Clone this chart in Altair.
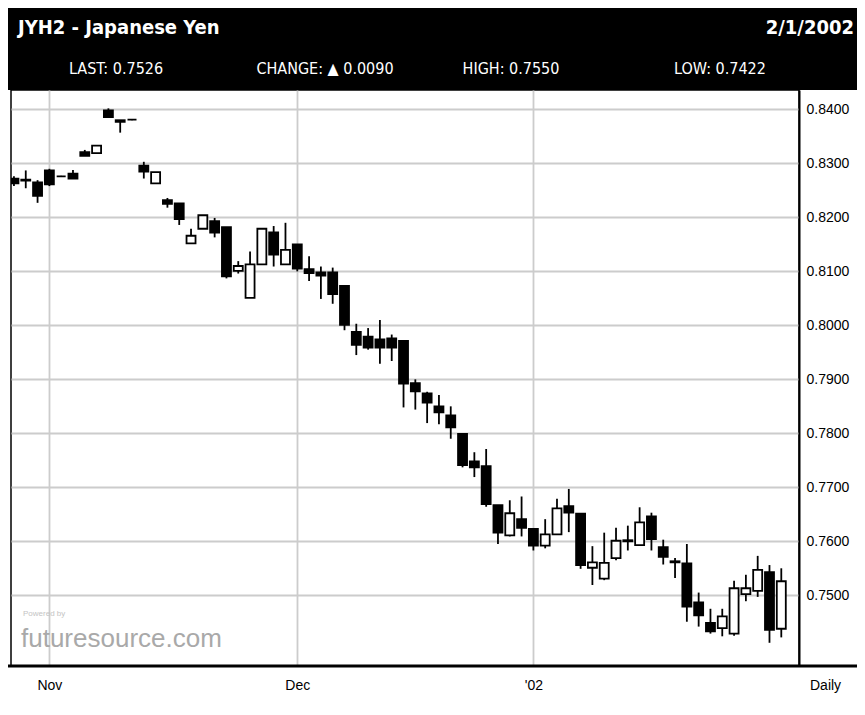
import json
import altair as alt
import pandas as pd

# ---- data (daily JYH2 candles, Oct 29 2001 .. Feb 1 2002)
opens = [0.8272, 0.8270, 0.8265, 0.8287, 0.8276, 0.8281, 0.8321, 0.8319, 0.8398, 0.8380,
         0.8381, 0.8296, 0.8263, 0.8232, 0.8226, 0.8152, 0.8179, 0.8193, 0.8182, 0.8101,
         0.8051, 0.8113, 0.8172, 0.8113, 0.8150, 0.8104, 0.8098, 0.8098, 0.8073, 0.7988,
         0.7979, 0.7974, 0.7976, 0.7971, 0.7893, 0.7874, 0.7850, 0.7833, 0.7799, 0.7748,
         0.7739, 0.7667, 0.7611, 0.7641, 0.7623, 0.7592, 0.7613, 0.7665, 0.7651, 0.7551,
         0.7531, 0.7569, 0.7602, 0.7593, 0.7646, 0.7589, 0.7563, 0.7559, 0.7487, 0.7449,
         0.7439, 0.7429, 0.7502, 0.7508, 0.7543, 0.7438]
highs = [0.8276, 0.8287, 0.8269, 0.8290, 0.8277, 0.8288, 0.8325, 0.8333, 0.8402, 0.8380,
         0.8382, 0.8303, 0.8284, 0.8236, 0.8226, 0.8179, 0.8204, 0.8199, 0.8182, 0.8119,
         0.8137, 0.8179, 0.8184, 0.8190, 0.8150, 0.8128, 0.8109, 0.8107, 0.8073, 0.8003,
         0.7995, 0.8010, 0.7983, 0.7971, 0.7900, 0.7877, 0.7871, 0.7850, 0.7799, 0.7765,
         0.7771, 0.7667, 0.7676, 0.7683, 0.7623, 0.7641, 0.7679, 0.7697, 0.7651, 0.7591,
         0.7616, 0.7625, 0.7629, 0.7663, 0.7653, 0.7603, 0.7569, 0.7595, 0.7505, 0.7475,
         0.7475, 0.7527, 0.7538, 0.7573, 0.7556, 0.7550]
lows = [0.8258, 0.8254, 0.8227, 0.8258, 0.8275, 0.8272, 0.8314, 0.8319, 0.8386, 0.8357,
        0.8380, 0.8272, 0.8263, 0.8218, 0.8186, 0.8152, 0.8179, 0.8163, 0.8087, 0.8096,
        0.8051, 0.8113, 0.8109, 0.8113, 0.8100, 0.8082, 0.8049, 0.8040, 0.7991, 0.7945,
        0.7955, 0.7929, 0.7934, 0.7848, 0.7844, 0.7819, 0.7817, 0.7790, 0.7737, 0.7719,
        0.7664, 0.7595, 0.7609, 0.7609, 0.7583, 0.7587, 0.7613, 0.7617, 0.7549, 0.7519,
        0.7528, 0.7565, 0.7583, 0.7593, 0.7583, 0.7557, 0.7532, 0.7451, 0.7442, 0.7429,
        0.7424, 0.7425, 0.7489, 0.7497, 0.7412, 0.7422]
closes = [0.8263, 0.8268, 0.8240, 0.8261, 0.8276, 0.8272, 0.8314, 0.8333, 0.8386, 0.8377,
          0.8381, 0.8285, 0.8284, 0.8225, 0.8197, 0.8166, 0.8204, 0.8172, 0.8091, 0.8110,
          0.8113, 0.8179, 0.8131, 0.8140, 0.8105, 0.8097, 0.8092, 0.8058, 0.8001, 0.7964,
          0.7959, 0.7959, 0.7959, 0.7892, 0.7878, 0.7857, 0.7839, 0.7811, 0.7741, 0.7737,
          0.7669, 0.7616, 0.7652, 0.7625, 0.7592, 0.7613, 0.7661, 0.7653, 0.7556, 0.7561,
          0.7560, 0.7601, 0.7600, 0.7635, 0.7604, 0.7571, 0.7561, 0.7479, 0.7463, 0.7433,
          0.7461, 0.7513, 0.7513, 0.7547, 0.7436, 0.7526]

month_ticks = [4, 25, 45]            # candle index of first trading day of the month
month_labels = ["Nov", "Dec", "'02"]
price_ticks = [0.75, 0.76, 0.77, 0.78, 0.79, 0.80, 0.81, 0.82, 0.83, 0.84]

title_left = "JYH2 - Japanese Yen"
title_right = "2/1/2002"
stats = ["LAST: 0.7526", "CHANGE: \u25B2 0.0090", "HIGH: 0.7550", "LOW: 0.7422"]

df = pd.DataFrame({
    "i": list(range(1, len(opens) + 1)),
    "open": opens, "high": highs, "low": lows, "close": closes,
})

W, H = 788, 576
FONT = "Liberation Sans, Arial, sans-serif"
NARROW = "Liberation Sans Narrow, DejaVu Sans Condensed, Liberation Sans, sans-serif"

label_expr = " : ".join(
    f"datum.value == {v} ? {json.dumps(l)}" for v, l in zip(month_ticks, month_labels)
) + " : ''"

xs = alt.Scale(domain=[0.75, 67.5], nice=False, zero=False, padding=0)
ys = alt.Scale(domain=[0.7369, 0.8436], nice=False, zero=False, padding=0)

base = alt.Chart(df)

wicks = base.mark_rule(color="black", strokeWidth=1.8, clip=True).encode(
    x=alt.X("i:Q", scale=xs,
            axis=alt.Axis(values=month_ticks, labelExpr=label_expr, title=None,
                          grid=True, gridColor="#cccccc", gridWidth=1.8,
                          ticks=False, domain=False, labelFont=FONT,
                          labelFontSize=14, labelColor="black", labelPadding=12,
                          labelAngle=0)),
    y=alt.Y("low:Q", scale=ys,
            axis=alt.Axis(orient="right", values=price_ticks, format=".4f", title=None,
                          grid=True, gridColor="#cccccc", gridWidth=1.8,
                          ticks=False, domain=True, domainColor="black", domainWidth=2,
                          labelFont=FONT, labelFontSize=14, labelColor="black",
                          labelPadding=7)),
    y2="high:Q",
)

bodies = base.mark_bar(size=9, stroke="black", strokeWidth=1.8, clip=True).encode(
    x=alt.X("i:Q", scale=xs),
    y=alt.Y("open:Q", scale=ys),
    y2="close:Q",
    fill=alt.condition("datum.close > datum.open", alt.value("white"), alt.value("black")),
)

one = alt.Chart(pd.DataFrame({"k": [0]}))

header = one.mark_rect(color="black").encode(
    x=alt.value(-3), x2=alt.value(846), y=alt.value(-82), y2=alt.value(0))
bottom_line = one.mark_rule(color="black", strokeWidth=3).encode(
    x=alt.value(-3), x2=alt.value(846), y=alt.value(H), y2=alt.value(H))

t_left = one.mark_text(font=NARROW, fontSize=20, fontWeight="bold", color="white",
                       align="left", baseline="alphabetic").encode(
    x=alt.value(7), y=alt.value(-56), text=alt.value(title_left))
t_right = one.mark_text(font=NARROW, fontSize=20, fontWeight="bold", color="white",
                        align="right", baseline="alphabetic").encode(
    x=alt.value(843), y=alt.value(-56), text=alt.value(title_right))

stat_x = [105, 314, 500, 709]
stat_layers = [
    one.mark_text(font=NARROW, fontSize=16, color="white", align="center",
                  baseline="alphabetic").encode(
        x=alt.value(sx), y=alt.value(-16), text=alt.value(s))
    for sx, s in zip(stat_x, stats)
]

powered = one.mark_text(font=FONT, fontSize=8, color="#c4c4c4", align="left",
                        baseline="alphabetic").encode(
    x=alt.value(12), y=alt.value(526), text=alt.value("Powered by"))
brand = one.mark_text(font=FONT, fontSize=26, color="#a9a9a9", align="left",
                      baseline="alphabetic").encode(
    x=alt.value(10), y=alt.value(557), text=alt.value("futuresource.com"))
daily = one.mark_text(font=FONT, fontSize=14, color="black", align="left",
                      baseline="middle").encode(
    x=alt.value(799), y=alt.value(H + 20), text=alt.value("Daily"))

chart = alt.layer(
    wicks, bodies, powered, brand, header, bottom_line, t_left, t_right, *stat_layers, daily
).properties(
    width=W, height=H,
    autosize=alt.AutoSizeParams(type="none"),
    padding={"left": 3, "top": 82, "right": 58, "bottom": 37},
    background="white",
).configure_view(stroke="black", strokeWidth=1.5)

chart.save("out.html", embed_options={"renderer": "svg", "actions": False})
